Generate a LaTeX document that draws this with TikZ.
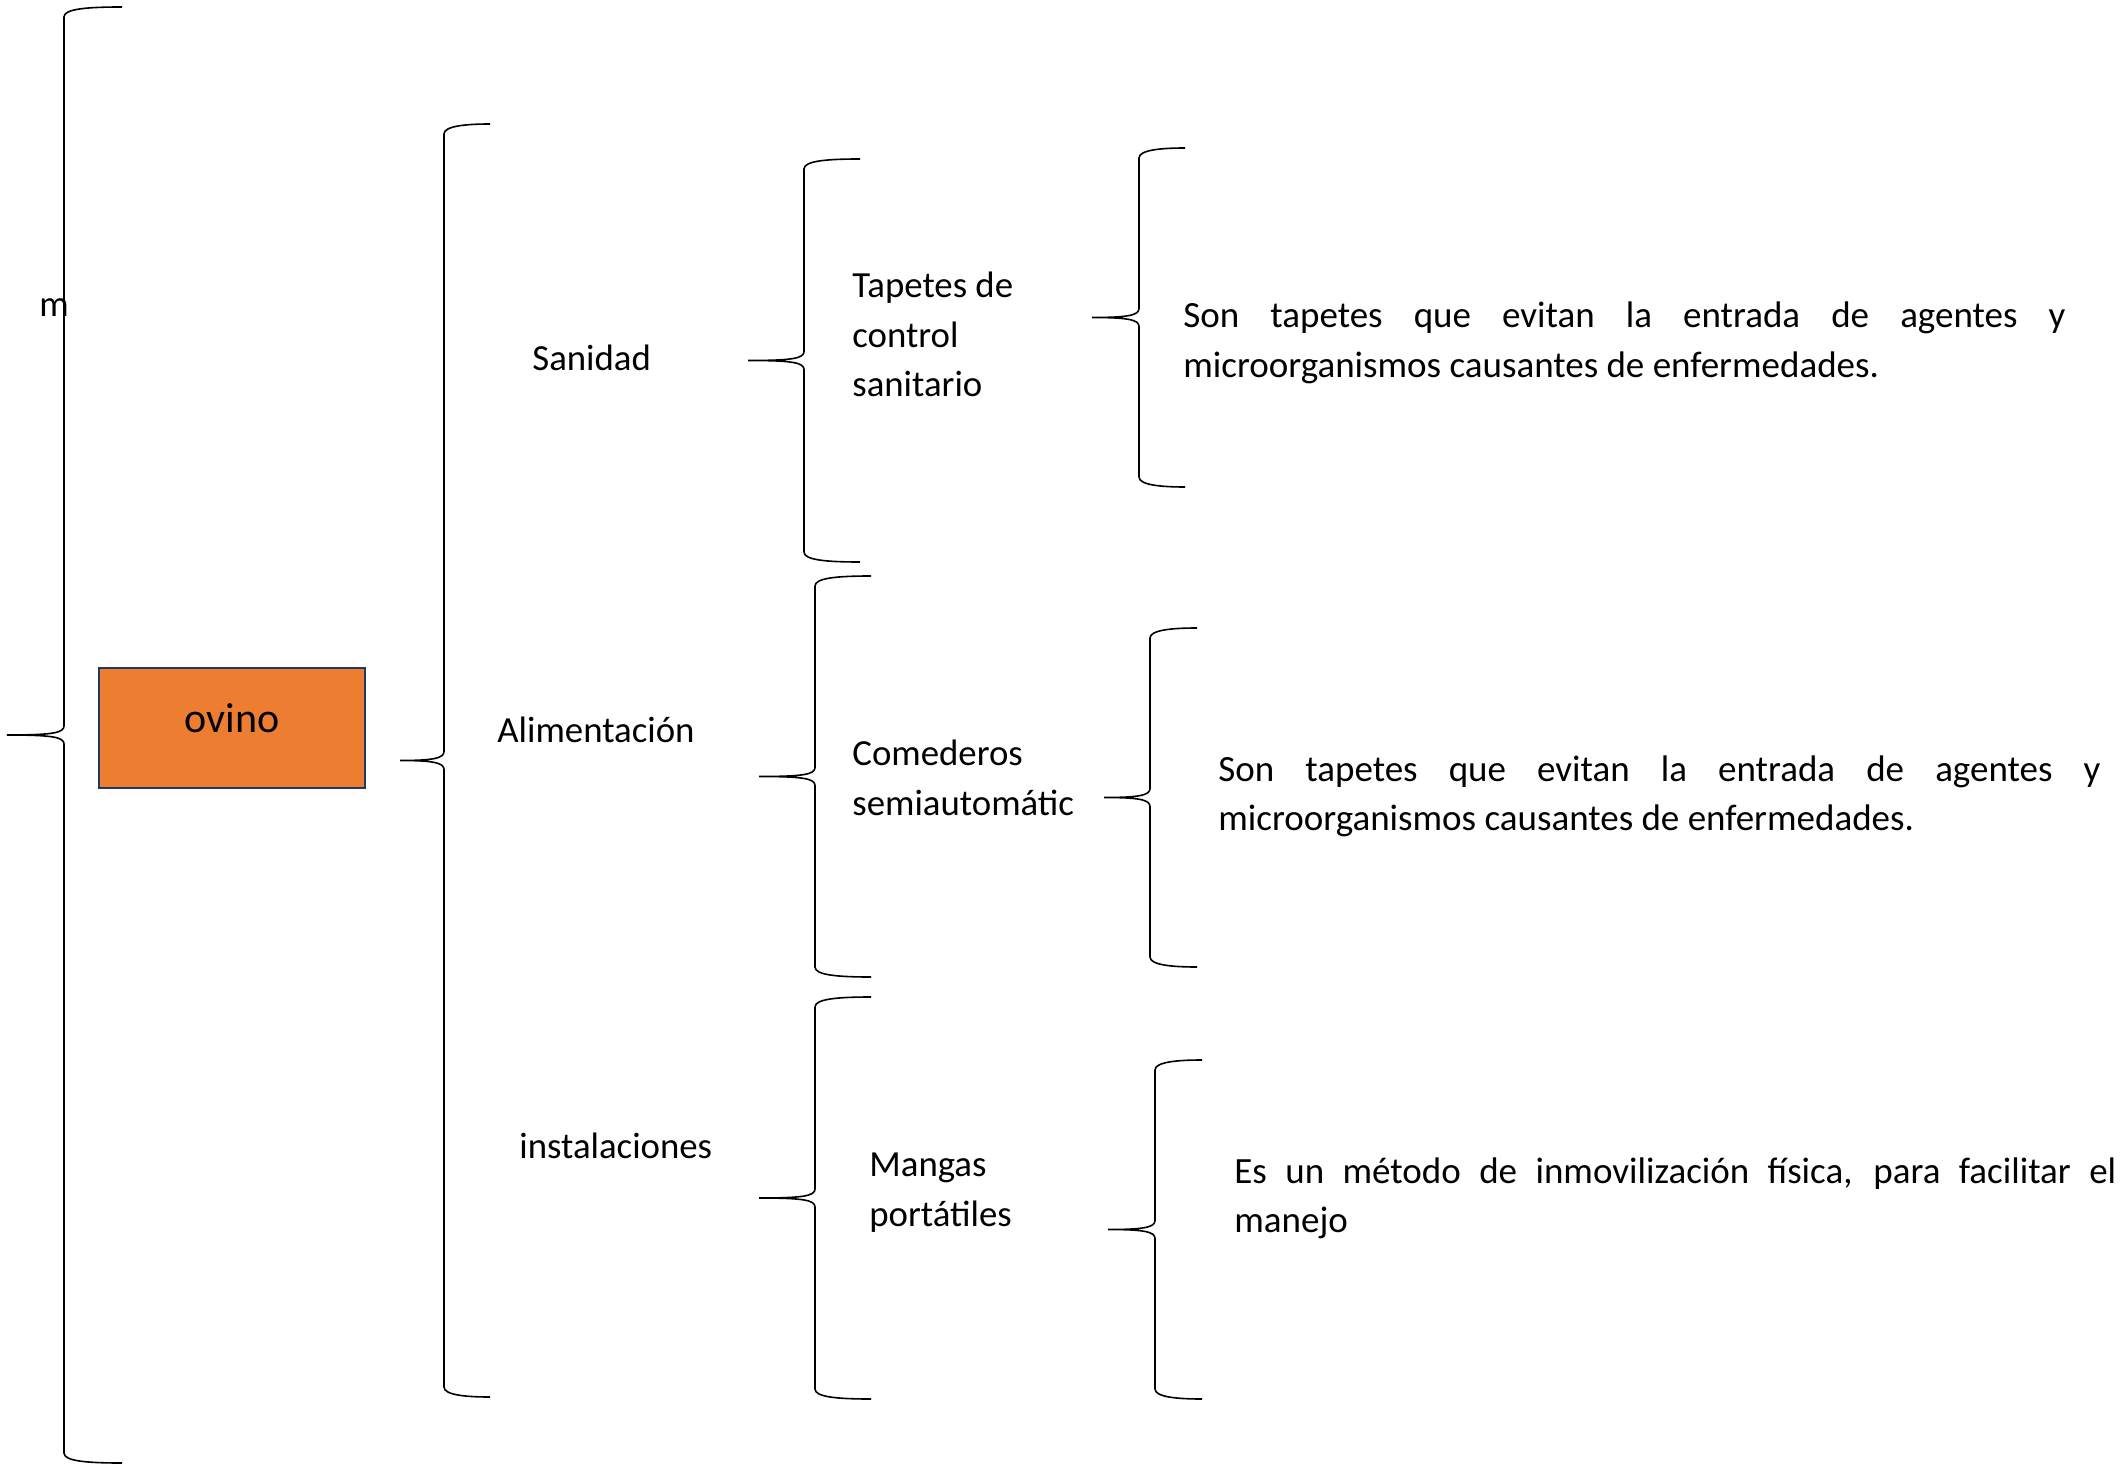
\documentclass[tikz,border=0pt]{standalone}
\usepackage{fontspec}
\setmainfont{Carlito}
\definecolor{ovorange}{HTML}{ED7D31}
\definecolor{ovborder}{HTML}{203864}
\newcommand{\wbrace}[5]{% #1 x of spine, #2 top y, #3 bottom y, #4 tip x, #5 end x
  \pgfmathsetmacro{\ymid}{(#2+#3)/2}
  \draw[bracestyle] (#5,#2) .. controls (#1+22,#2) and (#1,#2+2) .. (#1,#2+10)
    -- (#1,\ymid-9) .. controls (#1,\ymid-2) and (#1-12,\ymid) .. (#4,\ymid)
    .. controls (#1-12,\ymid) and (#1,\ymid+2) .. (#1,\ymid+9)
    -- (#1,#3-10) .. controls (#1,#3-2) and (#1+22,#3) .. (#5,#3);
}
\tikzset{
  bracestyle/.style={draw=black, line width=0.8pt},
  lbl/.style={inner sep=0pt, font=\fontsize{18.4pt}{24.75pt}\selectfont, anchor=base west, align=left},
  desc/.style={inner sep=0pt, font=\fontsize{18.5pt}{24.75pt}\selectfont, anchor=base west, text width=441pt, align=justify},
  rootbox/.style={draw=ovborder, line width=1pt, fill=ovorange, minimum width=133pt, minimum height=60pt,
    inner sep=0pt, font=\fontsize{21pt}{25pt}\selectfont, text height=12pt, text depth=8pt}
}
\begin{document}
\begin{tikzpicture}[x=0.5pt,y=-0.5pt]
\fill[white] (0,0) rectangle (2124,1470);
\useasboundingbox (0,0) rectangle (2124,1470);

% braces
\wbrace{64}{7}{1463}{7}{122}
\wbrace{444}{124}{1397}{400}{490}
\wbrace{804}{159}{562}{748}{860}
\wbrace{815}{576}{977}{759}{871}
\wbrace{815}{997}{1399}{759}{871}
\wbrace{1139}{148}{487}{1092}{1185}
\wbrace{1150}{628}{967}{1104}{1197}
\wbrace{1155}{1060}{1399}{1108}{1202}

% texts (multi-line labels are placed by the baseline of their last line)
\node[lbl] (m) at (39,317) {m};
\node[rootbox] (ovino) at (232,728) {ovino};
\node[lbl] (sanidad) at (532,371) {Sanidad};
\node[lbl] (alim) at (497,742) {Alimentación};
\node[lbl] (inst) at (519,1158) {instalaciones};
\node[lbl] (tapetes) at (852,397) {Tapetes de\\control\\sanitario};
\node[lbl] (comed) at (852,815) {Comederos\\semiautomátic};
\node[lbl] (mangas) at (869,1226) {Mangas\\portátiles};
\node[desc] (d1) at (1183,328) {Son tapetes que evitan la entrada de agentes y\linebreak microorganismos causantes de enfermedades.};
\node[desc] (d2) at (1218,781) {Son tapetes que evitan la entrada de agentes y\linebreak microorganismos causantes de enfermedades.};
\node[desc] (d3) at (1234,1183) {Es un método de inmovilización física, para facilitar el\linebreak manejo};
\end{tikzpicture}
\end{document}
